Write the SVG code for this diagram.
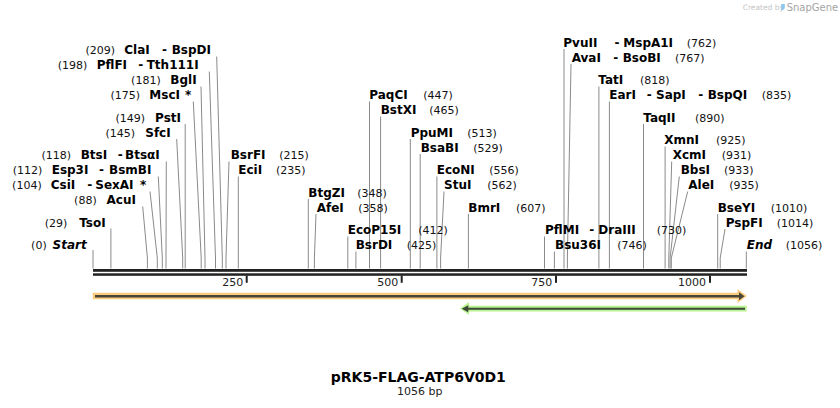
<svg xmlns="http://www.w3.org/2000/svg" width="840" height="408" viewBox="0 0 840 408">
<style>
text{font-family:"DejaVu Sans",Verdana,sans-serif;white-space:pre;fill:#000}
.e{font-size:12px;font-weight:bold}
.i{font-size:12px;font-weight:bold;font-style:italic}
.n{font-size:11px;fill:#111}
.end{text-anchor:end}
.ax{font-size:11px;fill:#222;text-anchor:end}
#connectors path{fill:none;stroke:#8a8a8a;stroke-width:1}
.bb{fill:#222}
</style>
<rect width="840" height="408" fill="#fff"/>
<g id="watermark">
<text x="742.7" y="10" style="font-size:7.5px;fill:#c4c4c4">Created by</text>
<path d="M781.2,4 h3.6 v3.6 q0,1.6 -1.6,2.2 l-2,0.8 z" fill="#8cc6ee"/>
<text x="786.7" y="11" style="font-size:10px;fill:#a4a4a4">SnapGene</text>
</g>
<g id="connectors">
<path d="M93,250V268.5"/>
<path d="M110.9,228.5V268.5"/>
<path d="M142.7,206.5L147.4,258V268.5"/>
<path d="M150,191.5L157.3,258V268.5"/>
<path d="M158.3,176.5L162.3,258V268.5"/>
<path d="M166.3,161.5L166,258V268.5"/>
<path d="M176.7,139L182.7,258V268.5"/>
<path d="M185.2,124V268.5"/>
<path d="M193.3,101.5L201.2,258V268.5"/>
<path d="M201,86.5L205,258V268.5"/>
<path d="M209.3,71.5L215.5,258V268.5"/>
<path d="M216.7,56.5L222.3,258V268.5"/>
<path d="M229,161.5L226,258V268.5"/>
<path d="M238.3,176.5V268.5"/>
<path d="M308.3,199V268.5"/>
<path d="M316,214L314.4,258V268.5"/>
<path d="M347.8,236.5V268.5"/>
<path d="M355.9,251.5V268.5"/>
<path d="M369.5,101.5V268.5"/>
<path d="M380.6,116.5V268.5"/>
<path d="M410.3,139V268.5"/>
<path d="M420.2,154V268.5"/>
<path d="M436.9,176.5V268.5"/>
<path d="M444,191.5L440.6,258V268.5"/>
<path d="M468.4,214V268.5"/>
<path d="M544.5,236.5V268.5"/>
<path d="M554.4,251.5V268.5"/>
<path d="M564,49V268.5"/>
<path d="M571,64L567.4,258V268.5"/>
<path d="M598.9,86.5V268.5"/>
<path d="M609.4,101.5V268.5"/>
<path d="M643.5,124V268.5"/>
<path d="M665.1,146.5V268.5"/>
<path d="M671.7,161.5L668.8,258V268.5"/>
<path d="M679.3,176.5L670.1,258V268.5"/>
<path d="M687.7,191.5L671.3,258V268.5"/>
<path d="M717.7,214V268.5"/>
<path d="M725,229L720.2,258V268.5"/>
<path d="M746.3,251.5V268.5"/>
</g>
<g id="backbone">
<rect class="bb" x="93" y="269" width="654" height="2.8"/>
<rect class="bb" x="93" y="273.3" width="654" height="2.5"/>
<rect class="bb" x="245.7" y="275.5" width="2" height="7.3"/>
<rect class="bb" x="400.7" y="275.5" width="2" height="7.3"/>
<rect class="bb" x="555" y="275.5" width="2" height="7.3"/>
<rect class="bb" x="709" y="275.5" width="2" height="7.3"/>
<text class="ax" x="243.3" y="286">250</text>
<text class="ax" x="398.3" y="286">500</text>
<text class="ax" x="552.3" y="286">750</text>
<text class="ax" x="706" y="286">1000</text>
</g>
<g id="feature-forward">
<path d="M92.7,296H740" stroke="#fbca7e" stroke-width="6.6" fill="none"/>
<polygon points="737.5,289 746.8,296 737.5,303" fill="#fbca7e"/>
<path d="M95,296.3H740" stroke="#4a4638" stroke-width="2.6" fill="none"/>
<polygon points="739,292.3 744.5,296.3 739,300.3" fill="#4a4638"/>
</g>
<g id="feature-reverse">
<path d="M467,308.6H746.7" stroke="#b8f291" stroke-width="5.8" fill="none"/>
<polygon points="469,302 460,308.6 469,315" fill="#b8f291"/>
<path d="M467,308.8H745" stroke="#3e4a37" stroke-width="2" fill="none"/>
<polygon points="468.3,305.3 461.7,308.8 468.3,312.3" fill="#3e4a37"/>
</g>
<g id="labels-left">
<g id="site-start"><text class="n end" x="46.7" y="249">(0)</text><text class="i end" x="86.7" y="249">Start</text></g>
<g id="site-tsoi"><text class="n end" x="67.3" y="226.5">(29)</text><text class="e end" x="105.7" y="226.5">TsoI</text></g>
<g id="site-acui"><text class="n end" x="96.7" y="204">(88)</text><text class="e end" x="136" y="204">AcuI</text></g>
<g id="site-csii"><text class="n end" x="41.7" y="189">(104)</text><text class="e" y="189"><tspan x="50.7">CsiI</tspan><tspan x="87.3">-</tspan><tspan x="95.3">SexAI</tspan><tspan x="140">*</tspan></text></g>
<g id="site-esp3i"><text class="n end" x="42.3" y="174">(112)</text><text class="e" y="174"><tspan x="51.7">Esp3I</tspan><tspan x="99">-</tspan><tspan x="109">BsmBI</tspan></text></g>
<g id="site-btsi"><text class="n end" x="71" y="159">(118)</text><text class="e" y="159"><tspan x="80.7">BtsI</tspan><tspan x="117.7">-</tspan><tspan x="125">BtsαI</tspan></text></g>
<g id="site-sfci"><text class="n end" x="135" y="136.5">(145)</text><text class="e end" x="170.7" y="136.5">SfcI</text></g>
<g id="site-psti"><text class="n end" x="145" y="121.5">(149)</text><text class="e end" x="181" y="121.5">PstI</text></g>
<g id="site-msci"><text class="n end" x="140" y="99">(175)</text><text class="e" y="99"><tspan x="149.3">MscI</tspan><tspan x="185">*</tspan></text></g>
<g id="site-bgli"><text class="n end" x="160.7" y="84">(181)</text><text class="e end" x="196.7" y="84">BglI</text></g>
<g id="site-pflfi"><text class="n end" x="87.3" y="69">(198)</text><text class="e" y="69"><tspan x="96.7">PflFI</tspan><tspan x="138.3">-</tspan><tspan x="146.7">Tth111I</tspan></text></g>
<g id="site-clai"><text class="n end" x="115" y="54">(209)</text><text class="e" y="54"><tspan x="124.3">ClaI</tspan><tspan x="162">-</tspan><tspan x="171.7">BspDI</tspan></text></g>
</g>
<g id="labels-right">
<g id="site-bsrfi"><text class="e" x="230.7" y="159">BsrFI</text><text class="n" x="279.3" y="159">(215)</text></g>
<g id="site-ecii"><text class="e" x="238.3" y="174">EciI</text><text class="n" x="276" y="174">(235)</text></g>
<g id="site-btgzi"><text class="e" x="308.3" y="196.5">BtgZI</text><text class="n" x="357.3" y="196.5">(348)</text></g>
<g id="site-afei"><text class="e" x="316.7" y="211.5">AfeI</text><text class="n" x="358.3" y="211.5">(358)</text></g>
<g id="site-ecop15i"><text class="e" x="347.7" y="234">EcoP15I</text><text class="n" x="418.3" y="234">(412)</text></g>
<g id="site-bsrdi"><text class="e" x="355.7" y="249">BsrDI</text><text class="n" x="406.7" y="249">(425)</text></g>
<g id="site-paqci"><text class="e" x="369.3" y="99">PaqCI</text><text class="n" x="423.3" y="99">(447)</text></g>
<g id="site-bstxi"><text class="e" x="380.7" y="114">BstXI</text><text class="n" x="429.3" y="114">(465)</text></g>
<g id="site-ppumi"><text class="e" x="410.7" y="136.5">PpuMI</text><text class="n" x="467.3" y="136.5">(513)</text></g>
<g id="site-bsabi"><text class="e" x="420.7" y="151.5">BsaBI</text><text class="n" x="473.3" y="151.5">(529)</text></g>
<g id="site-econi"><text class="e" x="436.7" y="174">EcoNI</text><text class="n" x="489.3" y="174">(556)</text></g>
<g id="site-stui"><text class="e" x="444" y="189">StuI</text><text class="n" x="487.3" y="189">(562)</text></g>
<g id="site-bmri"><text class="e" x="468.3" y="211.5">BmrI</text><text class="n" x="516" y="211.5">(607)</text></g>
<g id="site-pflmi"><text class="e" y="234"><tspan x="545">PflMI</tspan><tspan x="589.3">-</tspan><tspan x="598.3">DraIII</tspan></text><text class="n" x="656.7" y="234">(730)</text></g>
<g id="site-bsu36i"><text class="e" x="555" y="249">Bsu36I</text><text class="n" x="617.3" y="249">(746)</text></g>
<g id="site-pvuii"><text class="e" y="46.5"><tspan x="563.3">PvuII</tspan><tspan x="614.5">-</tspan><tspan x="623.3">MspA1I</tspan></text><text class="n" x="686.7" y="46.5">(762)</text></g>
<g id="site-avai"><text class="e" y="61.5"><tspan x="571.7">AvaI</tspan><tspan x="613.3">-</tspan><tspan x="622.7">BsoBI</tspan></text><text class="n" x="675" y="61.5">(767)</text></g>
<g id="site-tati"><text class="e" x="598.3" y="84">TatI</text><text class="n" x="640" y="84">(818)</text></g>
<g id="site-eari"><text class="e" y="99"><tspan x="609.3">EarI</tspan><tspan x="646.7">-</tspan><tspan x="656">SapI</tspan><tspan x="698.3">-</tspan><tspan x="707.7">BspQI</tspan></text><text class="n" x="761.7" y="99">(835)</text></g>
<g id="site-taqii"><text class="e" x="643.3" y="121.5">TaqII</text><text class="n" x="695" y="121.5">(890)</text></g>
<g id="site-xmni"><text class="e" x="664.3" y="144">XmnI</text><text class="n" x="716" y="144">(925)</text></g>
<g id="site-xcmi"><text class="e" x="672.7" y="159">XcmI</text><text class="n" x="721.7" y="159">(931)</text></g>
<g id="site-bbsi"><text class="e" x="680.7" y="174">BbsI</text><text class="n" x="724" y="174">(933)</text></g>
<g id="site-alei"><text class="e" x="688.3" y="189">AleI</text><text class="n" x="729.3" y="189">(935)</text></g>
<g id="site-bseyi"><text class="e" x="717.7" y="211.5">BseYI</text><text class="n" x="770.7" y="211.5">(1010)</text></g>
<g id="site-pspfi"><text class="e" x="725.7" y="226.5">PspFI</text><text class="n" x="776.7" y="226.5">(1014)</text></g>
<g id="site-end"><text class="i" x="746.7" y="249">End</text><text class="n" x="785.7" y="249">(1056)</text></g>
</g>
<g id="title">
<text x="418.3" y="382" style="font-size:14px;font-weight:bold;text-anchor:middle">pRK5-FLAG-ATP6V0D1</text>
<text x="419.7" y="395" style="font-size:11px;text-anchor:middle;fill:#222">1056 bp</text>
</g>
</svg>
